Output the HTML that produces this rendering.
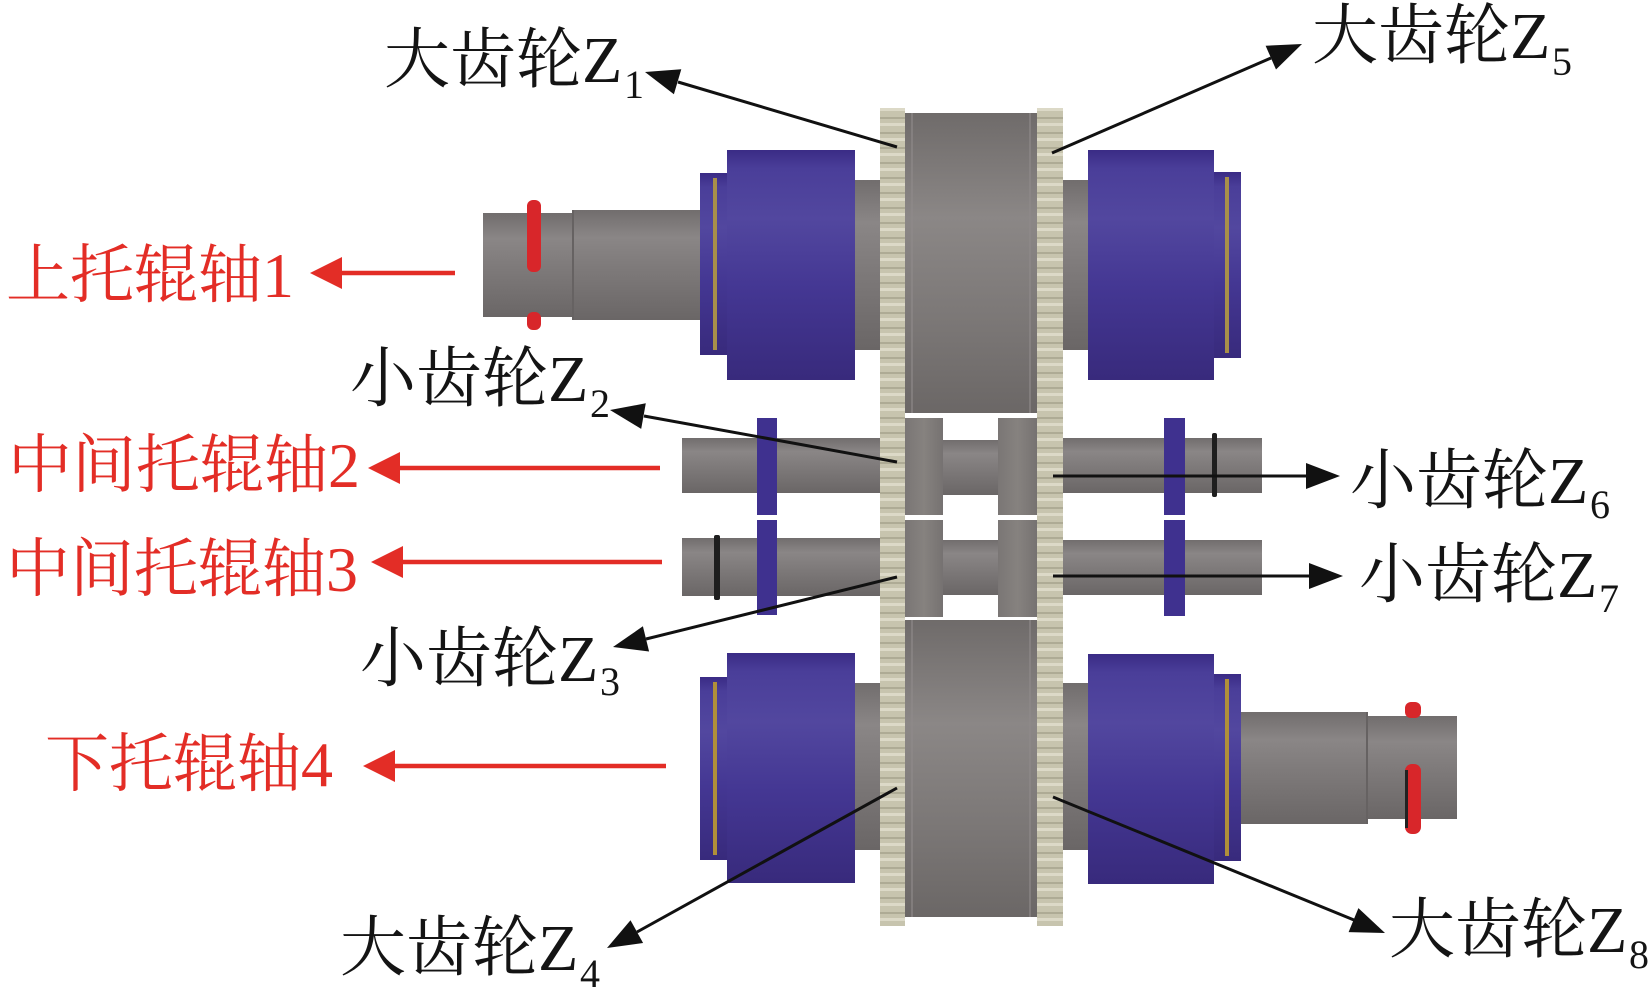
<!DOCTYPE html>
<html>
<head>
<meta charset="utf-8">
<style>
  html,body{margin:0;padding:0;background:#fff;}
  svg{display:block;}
  .lb{font-family:"Liberation Serif","Noto Serif CJK SC","Noto Serif CJK JP",serif;font-size:66px;fill:#141414;}
  .sb{font-family:"Liberation Serif","Noto Serif CJK SC",serif;font-size:40px;fill:#141414;}
  .rd{font-family:"Liberation Serif","Noto Serif CJK SC","Noto Serif CJK JP",serif;font-size:64px;fill:#e32d26;}
</style>
</head>
<body>
<svg width="1650" height="1008" viewBox="0 0 1650 1008" xmlns="http://www.w3.org/2000/svg">
  <defs>
    <linearGradient id="blue" x1="0" y1="0" x2="0" y2="1">
      <stop offset="0" stop-color="#3a2b85"/>
      <stop offset="0.08" stop-color="#4a3e99"/>
      <stop offset="0.3" stop-color="#52479f"/>
      <stop offset="0.6" stop-color="#443793"/>
      <stop offset="1" stop-color="#382a7c"/>
    </linearGradient>
    <linearGradient id="gs" x1="0" y1="0" x2="0" y2="1">
      <stop offset="0" stop-color="#716d6d"/>
      <stop offset="0.25" stop-color="#8a8686"/>
      <stop offset="0.55" stop-color="#7d7979"/>
      <stop offset="1" stop-color="#6a6666"/>
    </linearGradient>
    <linearGradient id="gd" x1="0" y1="0" x2="0" y2="1">
      <stop offset="0" stop-color="#6f6b6a"/>
      <stop offset="0.35" stop-color="#8b8786"/>
      <stop offset="0.7" stop-color="#7b7776"/>
      <stop offset="1" stop-color="#6b6766"/>
    </linearGradient>
    <linearGradient id="gh" x1="0" y1="0" x2="1" y2="0">
      <stop offset="0" stop-color="#7a7675"/>
      <stop offset="0.5" stop-color="#86827f"/>
      <stop offset="1" stop-color="#767271"/>
    </linearGradient>
    <pattern id="teeth" x="0" y="108" width="30" height="15" patternUnits="userSpaceOnUse">
      <rect x="0" y="0" width="30" height="15" fill="#c7c4ae"/>
      <rect x="0" y="0" width="30" height="3" fill="#dcd9c7"/>
      <rect x="0" y="9" width="30" height="2" fill="#aeab95"/>
    </pattern>
  </defs>

  <!-- ===== Upper left shaft ===== -->
  <rect x="483" y="213" width="90" height="104" fill="url(#gs)"/>
  <rect x="573" y="210" width="127" height="110" fill="url(#gs)"/>
  <rect x="572" y="210" width="2" height="110" fill="#666262"/>
  <rect x="527" y="200" width="14" height="72" rx="6" fill="#d8262a"/>
  <rect x="527" y="312" width="14" height="18" rx="6" fill="#d8262a"/>

  <!-- upper left roller -->
  <rect x="700" y="173" width="27" height="182" fill="url(#blue)"/>
  <rect x="713" y="178" width="4" height="172" fill="#a88f4a"/>
  <rect x="727" y="150" width="128" height="230" fill="url(#blue)"/>
  <rect x="855" y="180" width="25" height="170" fill="url(#gs)"/>

  <!-- upper right roller -->
  <rect x="1063" y="180" width="25" height="170" fill="url(#gs)"/>
  <rect x="1088" y="150" width="126" height="230" fill="url(#blue)"/>
  <rect x="1214" y="172" width="27" height="186" fill="url(#blue)"/>
  <rect x="1225" y="177" width="4" height="176" fill="#a88f4a"/>

  <!-- ===== Middle shafts ===== -->
  <rect x="682" y="438" width="198" height="55" fill="url(#gs)"/>
  <rect x="1063" y="438" width="199" height="55" fill="url(#gs)"/>
  <rect x="682" y="538" width="198" height="58" fill="url(#gs)"/>
  <rect x="1063" y="540" width="199" height="55" fill="url(#gs)"/>
  <rect x="757" y="418" width="20" height="97" fill="#3f318f"/>
  <rect x="757" y="520" width="20" height="95" fill="#3f318f"/>
  <rect x="1164" y="418" width="21" height="97" fill="#3f318f"/>
  <rect x="1164" y="520" width="21" height="96" fill="#3f318f"/>
  <rect x="1212" y="433" width="5" height="64" rx="2" fill="#1e1e1e"/>
  <rect x="714" y="535" width="6" height="65" rx="2" fill="#1e1e1e"/>

  <!-- ===== Lower rollers ===== -->
  <rect x="700" y="677" width="27" height="183" fill="url(#blue)"/>
  <rect x="713" y="682" width="4" height="173" fill="#b08f3a"/>
  <rect x="727" y="653" width="128" height="230" fill="url(#blue)"/>
  <rect x="855" y="683" width="25" height="167" fill="url(#gs)"/>

  <rect x="1063" y="683" width="25" height="167" fill="url(#gs)"/>
  <rect x="1088" y="654" width="126" height="230" fill="url(#blue)"/>
  <rect x="1214" y="674" width="27" height="187" fill="url(#blue)"/>
  <rect x="1225" y="679" width="4" height="177" fill="#b08f3a"/>

  <!-- lower right shaft -->
  <rect x="1241" y="712" width="126" height="112" fill="url(#gs)"/>
  <rect x="1367" y="716" width="90" height="103" fill="url(#gs)"/>
  <rect x="1366" y="712" width="2" height="112" fill="#666262"/>
  <rect x="1405" y="702" width="16" height="16" rx="6" fill="#d8262a"/>
  <rect x="1405" y="764" width="16" height="70" rx="7" fill="#d8262a"/>
  <rect x="1405" y="770" width="3" height="58" fill="#222"/>

  <!-- ===== Central gear block ===== -->
  <rect x="905" y="113" width="132" height="300" fill="url(#gd)"/>
  <rect x="905" y="418" width="38" height="97" fill="url(#gh)"/>
  <rect x="998" y="418" width="39" height="97" fill="url(#gh)"/>
  <rect x="905" y="520" width="38" height="97" fill="url(#gh)"/>
  <rect x="998" y="520" width="39" height="97" fill="url(#gh)"/>
  <rect x="943" y="440" width="55" height="55" fill="url(#gs)"/>
  <rect x="943" y="540" width="55" height="55" fill="url(#gs)"/>
  <rect x="905" y="620" width="132" height="297" fill="url(#gd)"/>
  <rect x="911" y="113" width="2" height="300" fill="#8f8b8a" opacity="0.6"/>
  <rect x="1029" y="113" width="2" height="300" fill="#8f8b8a" opacity="0.6"/>
  <rect x="911" y="620" width="2" height="297" fill="#8f8b8a" opacity="0.6"/>
  <rect x="1029" y="620" width="2" height="297" fill="#8f8b8a" opacity="0.6"/>
  <rect x="880" y="108" width="25" height="818" fill="url(#teeth)"/>
  <rect x="1037" y="108" width="26" height="818" fill="url(#teeth)"/>

  <!-- ===== Black arrows ===== -->
  <g stroke="#111" stroke-width="3" fill="none">
    <line x1="897" y1="147" x2="678" y2="82"/>
    <line x1="1052" y1="153" x2="1271" y2="58"/>
    <line x1="897" y1="462" x2="644" y2="416"/>
    <line x1="1053" y1="476" x2="1307" y2="476"/>
    <line x1="1053" y1="576" x2="1310" y2="576"/>
    <line x1="897" y1="577" x2="646" y2="639"/>
    <line x1="897" y1="788" x2="637" y2="932"/>
    <line x1="1053" y1="797" x2="1354" y2="920"/>
  </g>
  <g fill="#111">
    <polygon points="645,72 681.3,69.2 673.9,94.2"/>
    <polygon points="1302,44 1276.0,69.5 1265.6,45.7"/>
    <polygon points="610,410 645.8,403.3 641.2,428.9"/>
    <polygon points="1340,476 1306,463 1306,489"/>
    <polygon points="1343,576 1309,563 1309,589"/>
    <polygon points="613,647 642.9,626.3 649.1,651.5"/>
    <polygon points="607,948 630.5,920.2 643.1,943.0"/>
    <polygon points="1385,933 1348.6,932.1 1358.4,908.1"/>
  </g>

  <!-- ===== Red arrows ===== -->
  <g stroke="#e32d26" stroke-width="4.5">
    <line x1="455" y1="273" x2="340" y2="273"/>
    <line x1="660" y1="468" x2="398" y2="468"/>
    <line x1="662" y1="562" x2="401" y2="562"/>
    <line x1="666" y1="766" x2="393" y2="766"/>
  </g>
  <g fill="#e32d26">
    <polygon points="310,273 342,257 342,289"/>
    <polygon points="368,468 400,452 400,484"/>
    <polygon points="371,562 403,546 403,578"/>
    <polygon points="363,766 395,750 395,782"/>
  </g>

  <!-- ===== Labels ===== -->
  <text class="lb" x="384" y="82">大齿轮Z</text><text class="sb" x="624" y="98">1</text>
  <text class="lb" x="1312" y="58">大齿轮Z</text><text class="sb" x="1552" y="75">5</text>
  <text class="lb" x="350" y="401">小齿轮Z</text><text class="sb" x="590" y="417">2</text>
  <text class="lb" x="1350" y="503">小齿轮Z</text><text class="sb" x="1590" y="518">6</text>
  <text class="lb" x="1359" y="597">小齿轮Z</text><text class="sb" x="1599" y="612">7</text>
  <text class="lb" x="360" y="681">小齿轮Z</text><text class="sb" x="600" y="695">3</text>
  <text class="lb" x="340" y="970">大齿轮Z</text><text class="sb" x="580" y="987">4</text>
  <text class="lb" x="1389" y="952">大齿轮Z</text><text class="sb" x="1629" y="968">8</text>

  <text class="rd" x="6" y="297">上托辊轴1</text>
  <text class="rd" x="8" y="487">中间托辊轴2</text>
  <text class="rd" x="6" y="591">中间托辊轴3</text>
  <text class="rd" x="45" y="786">下托辊轴4</text>
</svg>
</body>
</html>
